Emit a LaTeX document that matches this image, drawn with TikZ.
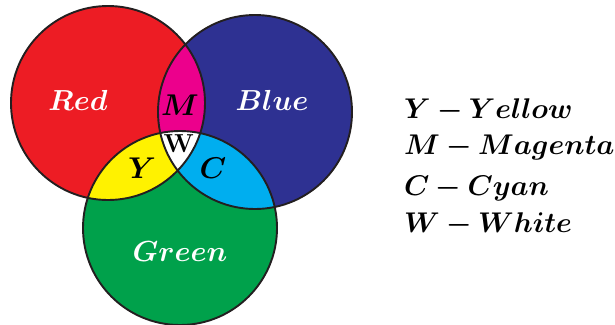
\RequirePackage{fix-cm}
\documentclass[tikz,border=0pt]{standalone}
\usepackage{bm}
\definecolor{cred}{HTML}{ED1C24}
\definecolor{cblue}{HTML}{2E3192}
\definecolor{cgreen}{HTML}{00A14B}
\definecolor{cmag}{HTML}{EC008C}
\definecolor{cyel}{HTML}{FFF200}
\definecolor{ccyan}{HTML}{00AEEF}
\definecolor{outline}{HTML}{231F20}
\tikzset{
  lbl/.style={font=\fontsize{29}{34}\selectfont, text=white, inner sep=0pt},
  dlbl/.style={font=\fontsize{30}{36}\selectfont, text=black, inner sep=0pt},
  wlbl/.style={font=\fontsize{26}{30}\selectfont, text=black, inner sep=0pt},
  legend/.style={font=\fontsize{28.5}{34}\selectfont, text=black, inner sep=0pt, anchor=base west},
  ring/.style={draw=outline, line width=1.9pt}
}
\begin{document}
\begin{tikzpicture}[x=1pt,y=-1pt]
\useasboundingbox (0,0) rectangle (615,324);
\coordinate (R) at (108,103);
\coordinate (B) at (255,112);
\coordinate (G) at (180,228);
\def\rr{97}
\fill[cred] (R) circle (\rr);
\fill[cblue] (B) circle (\rr);
\fill[cgreen] (G) circle (\rr);
\begin{scope}
  \clip (R) circle (\rr);
  \fill[cmag] (B) circle (\rr);
\end{scope}
\begin{scope}
  \clip (R) circle (\rr);
  \fill[cyel] (G) circle (\rr);
\end{scope}
\begin{scope}
  \clip (B) circle (\rr);
  \fill[ccyan] (G) circle (\rr);
\end{scope}
\begin{scope}
  \clip (R) circle (\rr);
  \clip (B) circle (\rr);
  \fill[white] (G) circle (\rr);
\end{scope}
\draw[ring] (R) circle (\rr);
\draw[ring] (B) circle (\rr);
\draw[ring] (G) circle (\rr);
\node[lbl] (red) at (78,100) {$\bm{Red}$};
\node[lbl] (blue) at (272,100) {$\bm{Blue}$};
\node[lbl] (green) at (180,252) {$\bm{Green}$};
\node[dlbl] (m) at (180,105) {$\bm{M}$};
\node[wlbl] (w) at (179,144) {$\mathbf{W}$};
\node[dlbl] (y) at (142,168) {$\bm{Y}$};
\node[dlbl] (c) at (213,168) {$\bm{C}$};
\node[legend] (l1) at (404,118) {$\bm{Y - Yellow}$};
\node[legend] (l2) at (404,154) {$\bm{M - Magenta}$};
\node[legend] (l3) at (404,195) {$\bm{C - Cyan}$};
\node[legend] (l4) at (404,232) {$\bm{W - White}$};
\end{tikzpicture}
\end{document}
